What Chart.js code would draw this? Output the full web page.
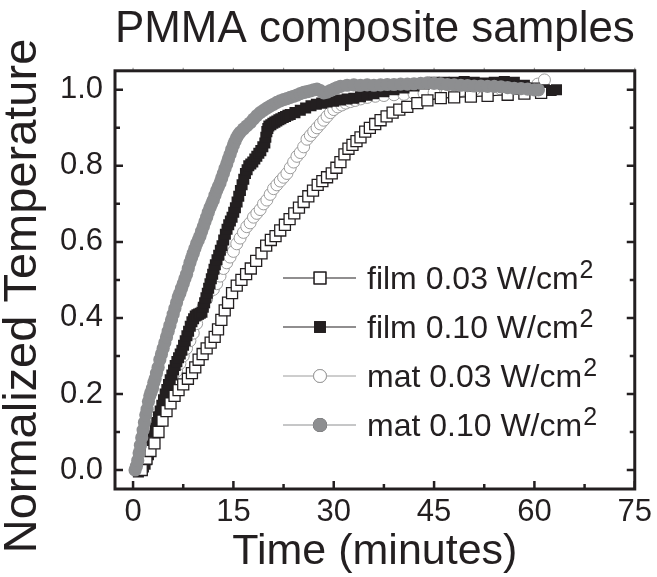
<!DOCTYPE html>
<html>
<head>
<meta charset="utf-8">
<script src="https://cdn.jsdelivr.net/npm/chart.js@4.4.1/dist/chart.umd.min.js"></script>
<style>
  html, body { margin: 0; padding: 0; background: #fff; }
  #wrap { width: 657px; height: 577px; }
</style>
</head>
<body>
<div id="wrap"><canvas id="pmma" width="657" height="577"></canvas></div>
<script>
// values (time in minutes, normalized temperature)
const film003Time = [1.3, 2.0, 2.6, 3.2, 3.8, 4.4, 5.0, 5.6, 6.2, 6.8, 7.5, 8.2, 8.8, 9.3, 9.8, 10.4, 11.0, 11.6, 12.2, 12.7,
  13.2, 13.7, 14.2, 14.8, 15.5, 16.2, 16.9, 17.6, 18.4, 19.2, 19.9, 20.6, 21.3, 22.0, 22.7, 23.4, 24.1, 24.8, 25.5, 26.2,
  26.9, 27.6, 28.3, 29.0, 29.7, 30.4, 31.0, 31.6, 32.2, 32.8, 33.4, 34.0, 34.7, 35.4, 36.2, 37.0, 37.9, 38.8, 39.8, 41.0,
  42.5, 44.0, 46.0, 48.0, 50.5, 53.0, 56.0, 58.5, 61.0];
const film003Temp = [0.0, 0.03, 0.05, 0.07, 0.10, 0.13, 0.155, 0.175, 0.195, 0.21, 0.225, 0.24, 0.255, 0.27, 0.29, 0.305, 0.32, 0.335, 0.35, 0.37,
  0.395, 0.42, 0.44, 0.465, 0.485, 0.50, 0.515, 0.53, 0.55, 0.57, 0.59, 0.605, 0.615, 0.63, 0.645, 0.66, 0.675, 0.69, 0.705, 0.72,
  0.735, 0.75, 0.76, 0.77, 0.78, 0.795, 0.81, 0.83, 0.845, 0.855, 0.865, 0.875, 0.89, 0.90, 0.91, 0.92, 0.93, 0.94, 0.948, 0.955,
  0.965, 0.972, 0.978, 0.98, 0.982, 0.984, 0.987, 0.99, 0.992];

const film010Time = [0.8, 1.05, 1.3, 1.55, 1.8, 2.05, 2.3, 2.55, 2.8, 3.05, 3.3, 3.55, 3.8, 4.05, 4.3, 4.55, 4.8, 5.05, 5.3, 5.55,
  5.8, 6.05, 6.3, 6.55, 6.8, 7.05, 7.3, 7.55, 7.8, 8.05, 8.3, 8.55, 8.8, 9.05, 9.3, 9.55, 9.8, 10.05, 10.3, 10.5,
  10.7, 10.9, 11.1, 11.3, 11.5, 11.7, 11.9, 12.1, 12.3, 12.55, 12.8, 13.05, 13.3, 13.55, 13.8, 14.05, 14.3, 14.55, 14.8, 15.05,
  15.3, 15.55, 15.8, 16.05, 16.3, 16.55, 16.8, 17.05, 17.3, 17.6, 17.9, 18.2, 18.5, 18.8, 19.1, 19.4, 19.7, 19.85, 20.0, 20.15,
  20.3, 20.6, 20.9, 21.2, 21.5, 21.8, 22.1, 22.45, 22.8, 23.15, 23.5, 24.2, 25.0, 25.8, 26.6, 27.4, 28.2, 29.0, 30.0, 31.0,
  32.0, 33.0, 34.0, 35.0, 36.0, 37.5, 39.0, 40.5, 42.0, 43.5, 45.0, 46.5, 48.0, 49.5, 51.0, 52.5, 54.0, 55.5, 57.0, 58.5,
  60.0, 61.5, 62.5, 63.3];
const film010Temp = [-0.005, 0.0, 0.0, 0.008, 0.015, 0.027, 0.04, 0.055, 0.07, 0.09, 0.11, 0.125, 0.14, 0.155, 0.17, 0.185, 0.20, 0.212, 0.225, 0.237,
  0.25, 0.263, 0.275, 0.285, 0.295, 0.305, 0.315, 0.328, 0.34, 0.353, 0.365, 0.378, 0.39, 0.398, 0.405, 0.408, 0.41, 0.412, 0.415, 0.428,
  0.44, 0.453, 0.465, 0.478, 0.49, 0.503, 0.515, 0.528, 0.54, 0.553, 0.565, 0.578, 0.59, 0.605, 0.62, 0.633, 0.645, 0.655, 0.665, 0.678,
  0.69, 0.705, 0.72, 0.735, 0.75, 0.765, 0.78, 0.79, 0.80, 0.805, 0.81, 0.818, 0.825, 0.833, 0.84, 0.85, 0.86, 0.875, 0.89, 0.898,
  0.905, 0.908, 0.912, 0.915, 0.918, 0.921, 0.924, 0.927, 0.93, 0.933, 0.935, 0.94, 0.946, 0.952, 0.958, 0.962, 0.965, 0.968, 0.97, 0.973,
  0.976, 0.978, 0.982, 0.986, 0.99, 0.995, 1.0, 1.005, 1.01, 1.015, 1.02, 1.02, 1.02, 1.022, 1.02, 1.018, 1.02, 1.022, 1.02, 1.012,
  1.005, 1.0, 0.998, 1.0];

const mat003Time = [1.0, 1.5, 2.0, 2.5, 3.0, 3.5, 4.0, 4.5, 5.0, 5.5, 6.0, 6.5, 7.0, 7.5, 8.0, 8.5, 9.0, 9.5, 10.0, 10.5,
  11.0, 11.5, 12.0, 12.5, 13.0, 13.5, 14.0, 14.5, 15.0, 15.5, 16.0, 16.5, 17.0, 17.5, 18.0, 18.5, 19.0, 19.5, 20.0, 20.5,
  21.0, 21.5, 22.0, 22.5, 23.0, 23.5, 24.0, 24.5, 25.0, 25.5, 26.0, 26.5, 27.0, 27.5, 28.0, 28.5, 29.0, 29.5, 30.0, 30.6,
  31.2, 31.8, 32.5, 33.2, 34.0, 35.0, 36.2, 37.5, 39.0, 40.5, 42.0, 43.5, 45.0, 47.0, 49.0, 51.0, 53.0, 55.0, 57.0, 59.0,
  60.5, 61.5];
const mat003Temp = [0.0, 0.01, 0.035, 0.06, 0.085, 0.11, 0.13, 0.155, 0.18, 0.21, 0.235, 0.26, 0.28, 0.30, 0.32, 0.34, 0.36, 0.385, 0.41, 0.43,
  0.45, 0.47, 0.475, 0.49, 0.51, 0.53, 0.545, 0.56, 0.575, 0.595, 0.61, 0.625, 0.64, 0.65, 0.665, 0.675, 0.685, 0.70, 0.71, 0.725,
  0.74, 0.75, 0.76, 0.77, 0.78, 0.795, 0.81, 0.825, 0.835, 0.85, 0.87, 0.88, 0.89, 0.90, 0.91, 0.92, 0.93, 0.94, 0.948, 0.955,
  0.96, 0.965, 0.969, 0.972, 0.976, 0.98, 0.983, 0.985, 0.987, 0.988, 0.99, 0.991, 0.992, 0.995, 0.998, 1.0, 1.0, 1.002, 1.003, 1.005,
  1.015, 1.026];

const mat010Time = [0.3, 0.5, 0.7, 0.9, 1.1, 1.3, 1.5, 1.7, 1.9, 2.1, 2.3, 2.5, 2.7, 2.9, 3.1, 3.3, 3.5, 3.75, 4.0, 4.25,
  4.5, 4.75, 5.0, 5.25, 5.5, 5.75, 6.0, 6.25, 6.5, 6.75, 7.0, 7.25, 7.5, 7.75, 8.0, 8.25, 8.5, 8.75, 9.0, 9.25,
  9.5, 9.75, 10.0, 10.25, 10.5, 10.75, 11.0, 11.25, 11.5, 11.75, 12.0, 12.25, 12.5, 12.75, 13.0, 13.25, 13.5, 13.75, 14.0, 14.25,
  14.5, 14.75, 15.0, 15.25, 15.5, 15.75, 16.0, 16.5, 17.0, 17.5, 18.0, 18.5, 19.0, 19.5, 20.0, 20.5, 21.0, 21.5, 22.0, 22.5,
  23.0, 23.5, 24.0, 24.5, 25.0, 25.5, 26.0, 26.5, 27.0, 27.5, 28.0, 28.5, 29.0, 29.5, 30.0, 30.5, 31.0, 32.0, 33.0, 34.0,
  35.0, 36.0, 37.0, 38.0, 39.0, 40.0, 41.0, 42.0, 43.0, 44.0, 45.0, 46.0, 47.0, 48.0, 49.0, 50.0, 51.0, 52.0, 53.0, 54.0,
  55.0, 56.0, 57.0, 58.0, 59.0, 60.0, 60.6];
const mat010Temp = [0.0, 0.01, 0.025, 0.045, 0.065, 0.085, 0.105, 0.125, 0.145, 0.16, 0.18, 0.195, 0.205, 0.215, 0.23, 0.24, 0.255, 0.27, 0.29, 0.305,
  0.32, 0.335, 0.35, 0.365, 0.38, 0.395, 0.41, 0.425, 0.44, 0.455, 0.465, 0.478, 0.49, 0.503, 0.515, 0.53, 0.545, 0.558, 0.57, 0.583,
  0.595, 0.605, 0.615, 0.628, 0.64, 0.653, 0.665, 0.678, 0.69, 0.70, 0.71, 0.723, 0.735, 0.745, 0.755, 0.768, 0.78, 0.793, 0.805, 0.818,
  0.83, 0.843, 0.855, 0.865, 0.875, 0.882, 0.888, 0.897, 0.905, 0.913, 0.923, 0.932, 0.94, 0.946, 0.952, 0.957, 0.962, 0.967, 0.971, 0.974,
  0.977, 0.98, 0.983, 0.986, 0.99, 0.993, 0.995, 0.997, 1.0, 1.002, 0.998, 0.992, 0.994, 0.998, 1.002, 1.006, 1.009, 1.012, 1.013, 1.012,
  1.013, 1.012, 1.013, 1.014, 1.014, 1.015, 1.015, 1.016, 1.017, 1.018, 1.017, 1.016, 1.014, 1.013, 1.012, 1.011, 1.01, 1.01, 1.009, 1.009,
  1.008, 1.006, 1.004, 1.003, 1.002, 1.0, 1.0];

const seriesLabels = ['film 0.03 W/cm', 'film 0.10 W/cm', 'mat 0.03 W/cm', 'mat 0.10 W/cm'];
const xTickValues = [0, 15, 30, 45, 60, 75];
const yTickValues = [0.0, 0.2, 0.4, 0.6, 0.8, 1.0];

const ink = '#231f20';
const gray = '#8d8e90';
const lightGray = '#9c9c9c';
const font = '"Liberation Sans", Arial, sans-serif';

function pts(xs, ys) {
  return xs.map((x, i) => ({x: x, y: ys[i]}));
}

// frame with inward ticks, like the original plot
const frame = {
  id: 'frame',
  afterDatasetsDraw(chart) {
    const {ctx, chartArea: a, scales: {x, y}} = chart;
    ctx.save();
    ctx.strokeStyle = ink;
    ctx.lineWidth = 2.5;
    const xs = [];
    xTickValues.forEach((v, i) => {
      xs.push([v, 8]);
      if (i < xTickValues.length - 1) xs.push([(v + xTickValues[i + 1]) / 2, 5]);
    });
    const ys = [];
    yTickValues.forEach((v, i) => {
      ys.push([v, 8]);
      if (i < yTickValues.length - 1) ys.push([(v + yTickValues[i + 1]) / 2, 5]);
    });
    ctx.beginPath();
    xs.forEach(([v, len]) => {
      const px = x.getPixelForValue(v);
      ctx.moveTo(px, a.bottom); ctx.lineTo(px, a.bottom - len);
    });
    ys.forEach(([v, len]) => {
      const py = y.getPixelForValue(v);
      ctx.moveTo(a.left, py); ctx.lineTo(a.left + len, py);
      ctx.moveTo(a.right, py); ctx.lineTo(a.right - len, py);
    });
    ctx.stroke();
    ctx.lineWidth = 1.2;
    ctx.strokeStyle = '#9a9a9a';
    ctx.beginPath();
    xs.forEach(([v]) => {
      const px = x.getPixelForValue(v);
      ctx.moveTo(px, a.top); ctx.lineTo(px, a.top - 3);
    });
    ctx.stroke();
    ctx.strokeStyle = ink;
    ctx.lineWidth = 3;
    ctx.strokeRect(a.left, a.top, a.right - a.left, a.bottom - a.top);
    ctx.restore();
  }
};

// y axis title, sits a bit lower than the plot centre in the original
const yTitle = {
  id: 'yTitle',
  afterDraw(chart) {
    const ctx = chart.ctx;
    ctx.save();
    ctx.translate(23, 296);
    ctx.rotate(-Math.PI / 2);
    ctx.fillStyle = ink;
    ctx.font = '47px ' + font;
    ctx.textAlign = 'center';
    ctx.textBaseline = 'middle';
    ctx.fillText('Normalized Temperature', 0, 0);
    ctx.restore();
  }
};

// legend inside the plot, line + marker + label with superscript 2
const insideLegend = {
  id: 'insideLegend',
  afterDraw(chart) {
    const ctx = chart.ctx;
    const rowY = [278, 327, 376, 425];
    ctx.save();
    chart.data.datasets.forEach((ds, i) => {
      const yy = rowY[i];
      ctx.strokeStyle = ds.borderColor;
      ctx.lineWidth = ds.borderWidth;
      ctx.beginPath();
      ctx.moveTo(283, yy); ctx.lineTo(356, yy);
      ctx.stroke();
      Chart.helpers.drawPoint(ctx, {
        pointStyle: ds.pointStyle,
        radius: ds.pointRadius + 0.5,
        borderWidth: ds.pointBorderWidth,
        rotation: 0
      }, 320, yy);
      ctx.fillStyle = ds.pointBackgroundColor;
      ctx.strokeStyle = ds.pointBorderColor;
      ctx.lineWidth = ds.pointBorderWidth;
      ctx.fill();
      if (ds.pointBorderWidth > 0) ctx.stroke();
      ctx.fillStyle = ink;
      ctx.textBaseline = 'alphabetic';
      ctx.font = '32px ' + font;
      ctx.fillText(ds.label, 367, yy + 11);
      const w = ctx.measureText(ds.label).width;
      ctx.font = '25px ' + font;
      ctx.fillText('2', 367 + w + 1, yy);
    });
    ctx.restore();
  }
};

new Chart(document.getElementById('pmma'), {
  type: 'line',
  data: {
    datasets: [
      {
        label: seriesLabels[0], data: pts(film003Time, film003Temp), order: 1,
        borderColor: ink, borderWidth: 1.2,
        pointStyle: 'rect', pointRadius: 7.8, pointBorderWidth: 1.3,
        pointBackgroundColor: '#ffffff', pointBorderColor: ink
      },
      {
        label: seriesLabels[1], data: pts(film010Time, film010Temp), order: 2,
        borderColor: ink, borderWidth: 1.2,
        pointStyle: 'rect', pointRadius: 7.8, pointBorderWidth: 0,
        pointBackgroundColor: ink, pointBorderColor: ink
      },
      {
        label: seriesLabels[2], data: pts(mat003Time, mat003Temp), order: 3,
        borderColor: lightGray, borderWidth: 1,
        pointStyle: 'circle', pointRadius: 6, pointBorderWidth: 1,
        pointBackgroundColor: '#ffffff', pointBorderColor: lightGray
      },
      {
        label: seriesLabels[3], data: pts(mat010Time, mat010Temp), order: 0,
        borderColor: gray, borderWidth: 1,
        pointStyle: 'circle', pointRadius: 6.6, pointBorderWidth: 0,
        pointBackgroundColor: gray, pointBorderColor: gray
      }
    ]
  },
  options: {
    responsive: false,
    animation: false,
    devicePixelRatio: 1,
    layout: { padding: 0 },
    plugins: {
      legend: { display: false },
      tooltip: { enabled: false },
      title: {
        display: true,
        fullSize: false,
        text: 'PMMA composite samples',
        color: ink,
        font: { family: font, size: 44, weight: 'normal' },
        padding: { top: 3, bottom: 15 }
      }
    },
    scales: {
      x: {
        type: 'linear',
        min: -2.7,
        max: 75,
        afterBuildTicks: s => { s.ticks = xTickValues.map(v => ({value: v})); },
        afterFit: s => { s.height = 88; },
        grid: { display: false, drawTicks: false },
        border: { display: false },
        ticks: { color: ink, padding: 5, font: { family: font, size: 31 } },
        title: {
          display: true, text: 'Time (minutes)', color: ink,
          font: { family: font, size: 43, lineHeight: 1 },
          padding: 3
        }
      },
      y: {
        type: 'linear',
        min: -0.05,
        max: 1.05,
        afterBuildTicks: s => { s.ticks = yTickValues.map(v => ({value: v})); },
        afterFit: s => { s.width = 115; },
        grid: { display: false, drawTicks: false },
        border: { display: false },
        ticks: { color: ink, padding: 12, font: { family: font, size: 31 }, callback: v => v.toFixed(1) },
        title: { display: false }
      }
    }
  },
  plugins: [frame, yTitle, insideLegend]
});
</script>
</body>
</html>
